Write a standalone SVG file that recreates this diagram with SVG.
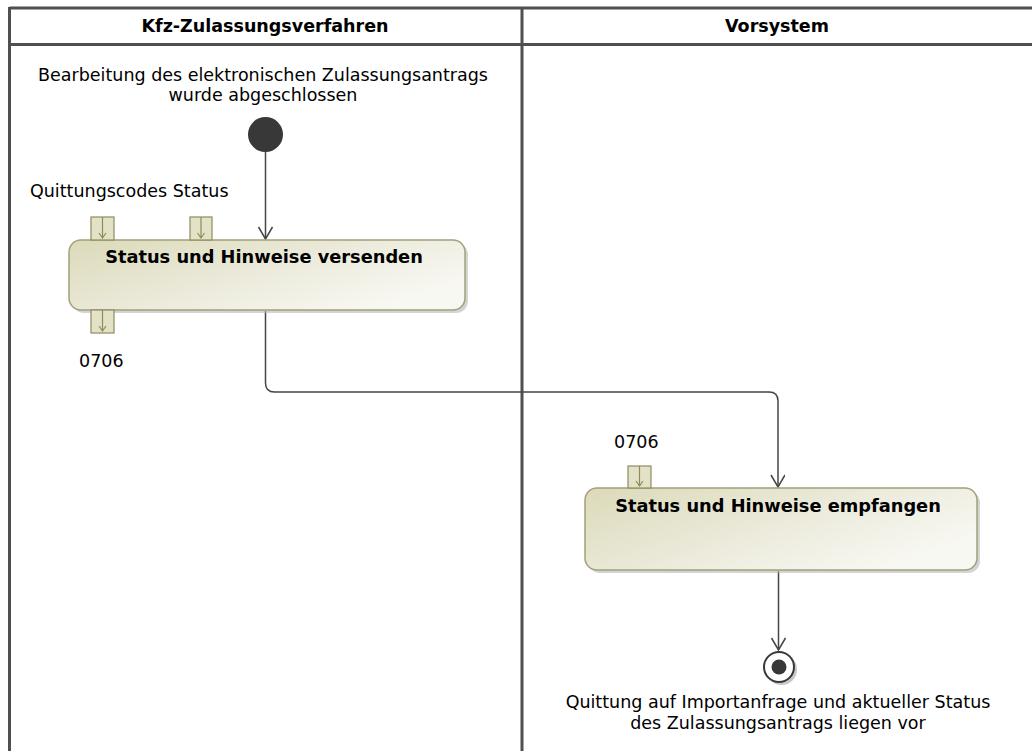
<svg xmlns="http://www.w3.org/2000/svg" width="1032" height="751" viewBox="0 0 1032 751">
<style>
.lane{stroke:#505050;stroke-width:3;fill:none}
.hdr{font-family:"DejaVu Sans",Verdana,sans-serif;font-weight:bold;font-size:17.5px;fill:#000;text-anchor:middle}
.lbl{font-family:"DejaVu Sans",Verdana,sans-serif;font-size:17.5px;fill:#000}
.ttl{font-family:"DejaVu Sans",Verdana,sans-serif;font-weight:bold;font-size:17.8px;fill:#000;text-anchor:middle}
.act{fill:url(#actGrad);stroke:#a3a07a;stroke-width:1.5}
.shadow{fill:#b8b8b8;opacity:0.6}
.pin{fill:#e4e2c6;stroke:#8e8c5e;stroke-width:1.2}
.pinarrow{stroke:#8e8c5e;stroke-width:1.2;fill:none}
.conn{stroke:#454545;stroke-width:1.5;fill:none;marker-end:url(#arrow)}
</style>
<defs>
<linearGradient id="actGrad" x1="0" y1="0" x2="1" y2="0.6">
<stop offset="0" stop-color="#dcdab8"/>
<stop offset="0.55" stop-color="#ebeadb"/>
<stop offset="1" stop-color="#f8f8f2"/>
</linearGradient>
<marker id="arrow" markerWidth="20" markerHeight="20" refX="13" refY="7" orient="auto" markerUnits="userSpaceOnUse">
<path d="M1,0 L13,7 L1,14" fill="none" stroke="#454545" stroke-width="1.5"/>
</marker>
</defs>
<rect x="0" y="0" width="1032" height="751" fill="#ffffff"/>
<g id="swimlanes">
<line class="lane" x1="9.5" y1="8" x2="1040" y2="8"/>
<line class="lane" x1="9.5" y1="44.5" x2="1040" y2="44.5"/>
<line class="lane" x1="9.5" y1="7" x2="9.5" y2="760"/>
<line class="lane" x1="522" y1="7" x2="522" y2="760"/>
<text class="hdr" x="265" y="32">Kfz-Zulassungsverfahren</text>
<text class="hdr" x="777" y="32">Vorsystem</text>
</g>
<g id="start">
<circle cx="265.5" cy="134.5" r="17.5" fill="#383838"/>
<text class="lbl" x="263" y="81" text-anchor="middle">Bearbeitung des elektronischen Zulassungsantrags</text>
<text class="lbl" x="263" y="101" text-anchor="middle">wurde abgeschlossen</text>
</g>
<g id="connectors">
<line class="conn" x1="265.5" y1="152" x2="265.5" y2="239"/>
<path class="conn" d="M265.5,311 V383 Q265.5,392 274.5,392 H769 Q778,392 778,401 V487"/>
<line class="conn" x1="778.5" y1="571" x2="778.5" y2="650"/>
</g>
<g id="send">
<rect class="shadow" x="72" y="243" width="396" height="70" rx="12"/>
<rect class="act" x="69" y="240" width="396" height="70" rx="12"/>
<text class="ttl" x="264" y="263">Status und Hinweise versenden</text>
<rect class="pin" x="91" y="217" width="23" height="23"/>
<path class="pinarrow" d="M102.5,217 V238 M99,233 L102.5,238 L106,233"/>
<rect class="pin" x="190" y="217" width="22" height="23"/>
<path class="pinarrow" d="M201,217 V238 M197.5,233 L201,238 L204.5,233"/>
<rect class="pin" x="91" y="310" width="23" height="23"/>
<path class="pinarrow" d="M102.5,310 V331 M99,326 L102.5,331 L106,326"/>
<text class="lbl" x="30" y="197">Quittungscodes Status</text>
<text class="lbl" x="79" y="367">0706</text>
</g>
<g id="receive">
<rect class="shadow" x="588" y="491" width="392" height="82" rx="12"/>
<rect class="act" x="585" y="488" width="392" height="82" rx="12"/>
<text class="ttl" x="778" y="512">Status und Hinweise empfangen</text>
<rect class="pin" x="628" y="466" width="23" height="22"/>
<path class="pinarrow" d="M639.5,466 V486 M636,481 L639.5,486 L643,481"/>
<text class="lbl" x="614" y="448">0706</text>
</g>
<g id="end">
<circle cx="781.5" cy="669.5" r="15.5" fill="#c8c8c8"/>
<circle cx="779" cy="667" r="15" fill="#ffffff" stroke="#383838" stroke-width="2"/>
<circle cx="779" cy="667" r="7.5" fill="#383838"/>
<text class="lbl" x="778" y="708" text-anchor="middle">Quittung auf Importanfrage und aktueller Status</text>
<text class="lbl" x="778" y="729" text-anchor="middle">des Zulassungsantrags liegen vor</text>
</g>
</svg>
